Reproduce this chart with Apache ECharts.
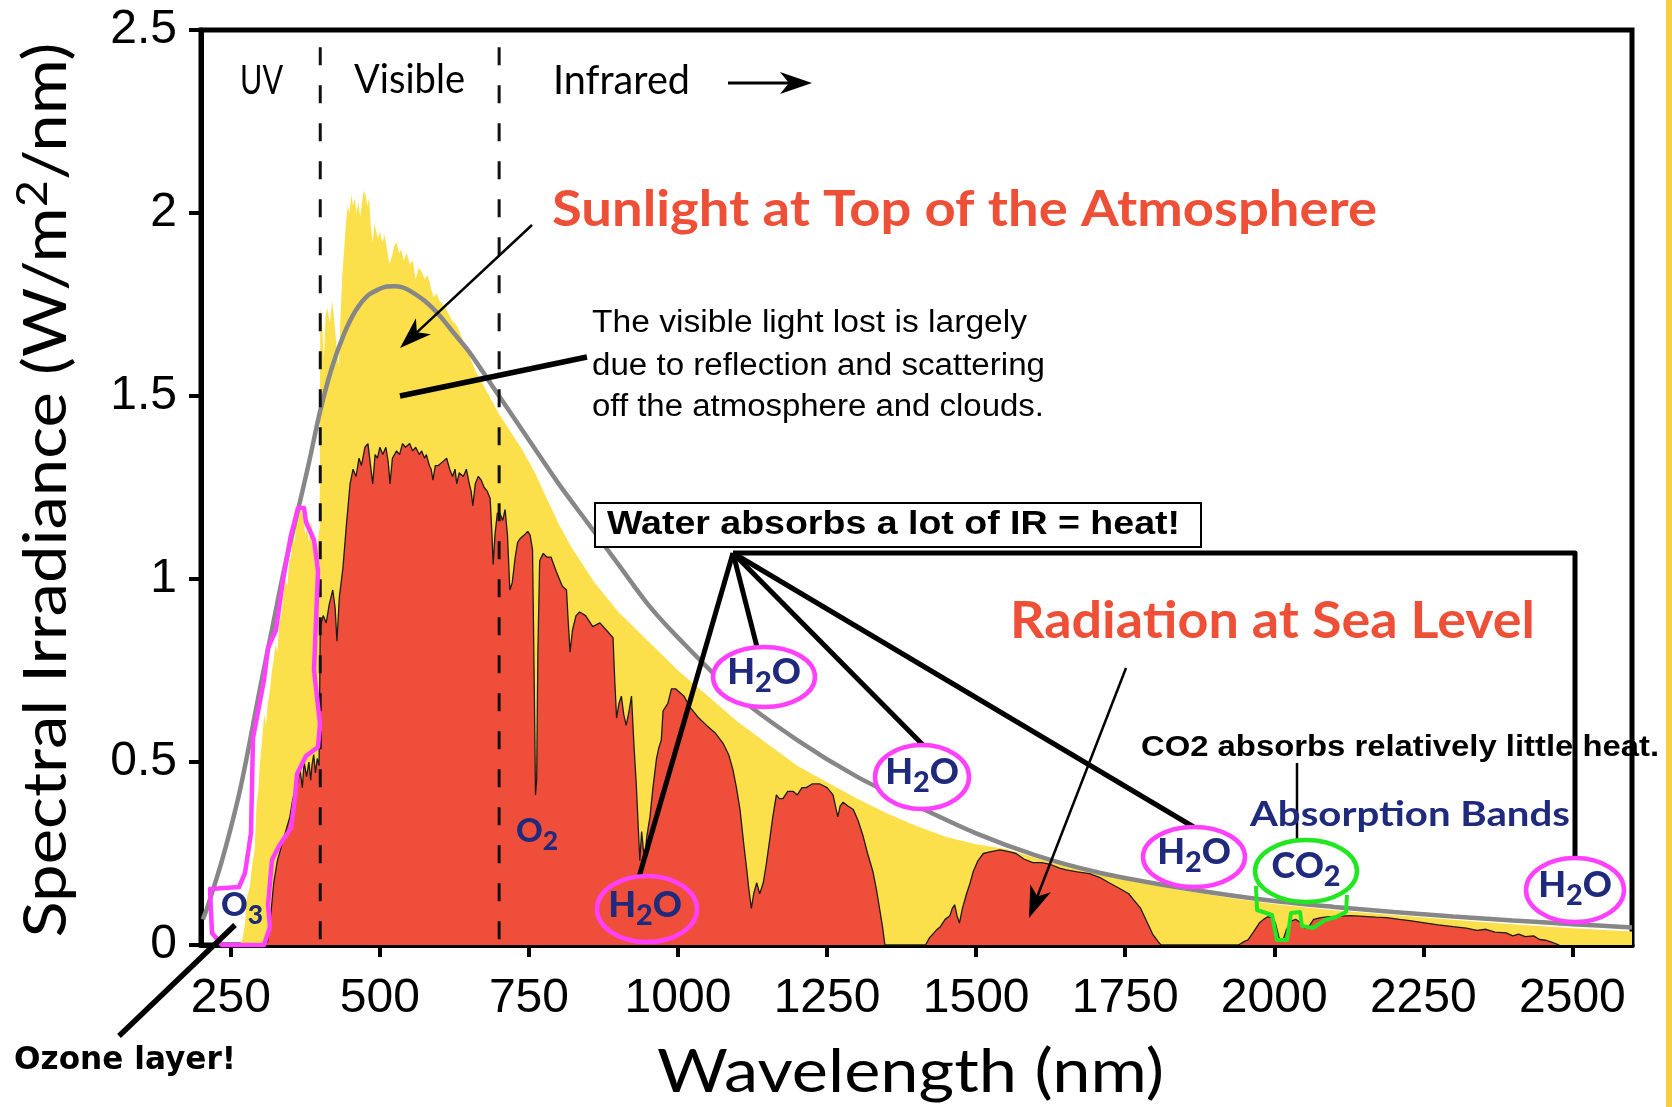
<!DOCTYPE html>
<html><head><meta charset="utf-8">
<script src="https://cdn.jsdelivr.net/npm/echarts@6/dist/echarts.min.js"></script>
<style>html,body{margin:0;padding:0;background:#fff}#c{width:1672px;height:1107px}</style>
</head><body><div id="c"></div>
<script>
// ---------------- data ----------------
const toaWavelength = [265,270,274,277,282,286,290,293,296,299,303,306,309,312,316,319,322,325,328,331,336,341,345,348,351,354,357,360,363,366,369,372,375,378,381,384,387,390,393,396,399,400,403,406,409,412,416,420,424,428,431,434,437,440,443,446,449,452,455,458,461,464,467,470,473,476,479,482,485,488,491,494,497,500,504,508,512,516,520,524,528,532,536,540,545,550,555,560,565,570,575,580,585,590,595,600,610,620,630,640,650,660,670,680,690,700,720,740,760,780,800,820,840,860,880,900,925,950,975,1000,1050,1100,1150,1200,1250,1300,1350,1400,1450,1500,1550,1600,1650,1700,1750,1800,1850,1900,1950,2000,2100,2200,2300,2400,2500,2600];
const toaIrradiance = [0,0.02,0.06,0.13,0.16,0.22,0.26,0.38,0.42,0.50,0.57,0.63,0.60,0.66,0.70,0.75,0.78,0.82,0.80,0.87,0.92,1.00,0.98,1.05,1.06,1.12,1.10,1.16,1.19,1.21,1.18,1.17,1.12,1.14,1.10,1.16,1.13,1.12,1.06,1.10,1.14,1.74,1.70,1.60,1.72,1.74,1.70,1.76,1.70,1.62,1.58,1.72,1.83,1.90,1.97,2.02,2.00,2.05,2.02,2.04,2.00,2.03,1.99,2.03,2.06,2.05,2.02,2.04,1.96,1.92,1.97,1.95,1.93,1.95,1.92,1.94,1.90,1.86,1.88,1.91,1.92,1.89,1.90,1.87,1.89,1.86,1.87,1.82,1.85,1.84,1.82,1.83,1.80,1.77,1.78,1.76,1.74,1.71,1.69,1.65,1.61,1.57,1.54,1.51,1.48,1.45,1.40,1.35,1.29,1.22,1.15,1.09,1.04,0.99,0.95,0.91,0.87,0.83,0.79,0.75,0.68,0.61,0.55,0.49,0.445,0.40,0.36,0.325,0.295,0.275,0.262,0.238,0.215,0.195,0.178,0.162,0.148,0.135,0.123,0.112,0.095,0.082,0.069,0.057,0.046,0.037];

const seaWavelength = [305,312,318,322,328,335,342,349,353,357,362,366,370,373,377,381,384,386,389,392,395,398,400,405,410,415,421,425,428,432,438,444,450,455,460,465,469,475,480,485,488,492,496,500,505,510,514,517,521,528,533,538,543,550,555,560,566,570,575,578,583,586,589,593,598,605,612,617,622,626,629,633,640,645,650,653,656,660,665,670,675,680,685,688,690,693,697,701,706,710,714,718,722,727,731,735,742,748,752,756,759,761,763,765,768,774,780,787,796,806,813,816,819,823,829,835,845,857,869,880,891,894,897,901,905,909,913,918,922,926,930,934,936,939,942,944,948,953,958,964,968,972,975,979,983,989,996,1003,1010,1020,1035,1048,1062,1076,1085,1092,1098,1104,1110,1115,1119,1123,1127,1132,1137,1143,1148,1154,1159,1165,1170,1176,1184,1193,1200,1208,1215,1225,1238,1250,1260,1264,1268,1272,1277,1285,1294,1302,1310,1318,1327,1333,1338,1343,1347,1415,1422,1433,1440,1448,1456,1460,1464,1468,1472,1477,1484,1490,1495,1503,1512,1525,1540,1555,1567,1580,1595,1610,1625,1640,1651,1670,1690,1707,1723,1740,1756,1766,1776,1786,1796,1805,1810,1940,1950,1956,1965,1975,1982,1989,1996,2002,2008,2014,2020,2028,2036,2045,2052,2058,2066,2078,2089,2110,2129,2150,2170,2188,2210,2230,2255,2275,2300,2322,2340,2355,2370,2389,2400,2410,2421,2435,2445,2455,2465,2478];
const seaIrradiance = [0,0.01,0.10,0.17,0.23,0.27,0.31,0.35,0.39,0.42,0.44,0.48,0.43,0.50,0.46,0.50,0.45,0.49,0.52,0.47,0.51,0.49,0.87,0.90,0.88,0.93,0.97,0.92,0.83,0.95,1.03,1.15,1.26,1.30,1.28,1.33,1.31,1.36,1.37,1.30,1.26,1.34,1.33,1.36,1.34,1.36,1.32,1.26,1.33,1.35,1.34,1.37,1.36,1.37,1.35,1.36,1.34,1.35,1.33,1.34,1.31,1.30,1.27,1.31,1.31,1.32,1.33,1.30,1.28,1.30,1.26,1.29,1.28,1.30,1.26,1.24,1.20,1.26,1.28,1.27,1.25,1.24,1.22,1.12,1.04,1.12,1.18,1.18,1.16,1.19,1.12,0.97,0.99,1.06,1.10,1.11,1.12,1.13,1.12,1.08,0.70,0.41,0.45,0.80,1.05,1.07,1.06,1.06,1.02,0.98,0.97,0.88,0.80,0.86,0.90,0.91,0.90,0.87,0.88,0.86,0.84,0.72,0.62,0.66,0.68,0.63,0.60,0.64,0.68,0.55,0.44,0.30,0.23,0.31,0.26,0.24,0.30,0.35,0.43,0.51,0.54,0.56,0.64,0.65,0.66,0.70,0.70,0.69,0.68,0.65,0.62,0.60,0.58,0.55,0.52,0.48,0.43,0.37,0.28,0.21,0.15,0.10,0.14,0.17,0.14,0.17,0.22,0.29,0.35,0.41,0.40,0.40,0.42,0.42,0.41,0.43,0.43,0.44,0.44,0.43,0.41,0.38,0.35,0.38,0.39,0.38,0.37,0.34,0.30,0.25,0.20,0.15,0.10,0.05,0,0,0.02,0.04,0.05,0.07,0.08,0.10,0.11,0.08,0.06,0.10,0.14,0.17,0.20,0.23,0.25,0.255,0.26,0.255,0.25,0.235,0.225,0.225,0.22,0.21,0.205,0.20,0.195,0.185,0.17,0.155,0.14,0.12,0.10,0.065,0.03,0.01,0,0,0.01,0.014,0.035,0.06,0.07,0.077,0.075,0.06,0.02,0.01,0.04,0.065,0.07,0.06,0.045,0.05,0.07,0.075,0.077,0.079,0.08,0.078,0.076,0.075,0.07,0.066,0.06,0.055,0.05,0.046,0.04,0.043,0.035,0.033,0.025,0.03,0.023,0.025,0.015,0.013,0.008,0];

const bbWavelength = [203,210,220,235,250,265,280,300,320,340,360,380,400,420,440,460,480,500,512,525,538,550,575,600,625,650,700,750,800,850,900,950,1000,1100,1200,1300,1400,1500,1600,1700,1800,1900,2000,2100,2200,2300,2400,2500,2600];
const bbIrradiance = [0.07,0.10,0.15,0.23,0.32,0.42,0.54,0.71,0.87,1.03,1.17,1.31,1.46,1.58,1.67,1.735,1.775,1.793,1.799,1.80,1.797,1.788,1.76,1.72,1.67,1.62,1.50,1.38,1.26,1.15,1.04,0.93,0.84,0.68,0.56,0.46,0.38,0.305,0.245,0.20,0.168,0.142,0.12,0.104,0.09,0.078,0.067,0.057,0.048];

const xTickValues = [250,500,750,1000,1250,1500,1750,2000,2250,2500];
const regionBounds = [400, 700];
const regionLineTop = 2.453;

// ---------------- helpers ----------------
const zip = (xs, ys) => xs.map((x, i) => [x, ys[i]]);
const mctx = document.createElement('canvas').getContext('2d');
function measure(text, size, family, weight) {
  mctx.font = (weight || 'normal') + ' ' + size + 'px ' + family;
  return mctx.measureText(text).width;
}
const NAVY = '#1f2a7c', MAG = '#ff40ff', GREEN = '#22e622', RED = '#ee4f37';
const g = [];
function txt(o) {
  const w = measure(o.text, o.size, o.family, o.weight);
  const sx = o.width ? o.width / w : 1;
  g.push({type: 'text', x: o.x, y: o.y, rotation: o.rotation || 0, scaleX: sx, z: 120,
    style: {text: o.text, fontSize: o.size, fontFamily: o.family, fontWeight: o.weight || 'normal',
      fill: o.color || '#000', align: o.align || 'left', verticalAlign: 'middle'}});
}
function poly(pts, w, color, closed, fill) {
  g.push({type: closed ? 'polygon' : 'polyline', shape: {points: pts}, z: 110,
    style: {stroke: color || '#000', lineWidth: w, fill: fill || null, lineJoin: 'round'}});
}
function arrow(x1, y1, x2, y2, w, hl, hw) {
  const a = Math.atan2(y2 - y1, x2 - x1), c = Math.cos(a), s = Math.sin(a);
  const bx = x2 - hl * c, by = y2 - hl * s, nx = x2 - hl * 0.72 * c, ny = y2 - hl * 0.72 * s;
  poly([[x1, y1], [nx, ny]], w);
  g.push({type: 'polygon', z: 111, shape: {points: [[x2, y2], [bx - hw * s, by + hw * c], [nx, ny], [bx + hw * s, by - hw * c]]}, style: {fill: '#000'}});
}
function ellipse(cx, cy, rx, ry, color, fill) {
  g.push({type: 'ellipse', z: 112, shape: {cx, cy, rx, ry}, style: {stroke: color, lineWidth: 4.5, fill: fill || null}});
}
function chem(parts, x, y, size) {
  const text = parts.map(p => '{' + p[1] + '|' + p[0] + '}').join('');
  g.push({type: 'text', x, y, z: 121, style: {text, align: 'center', verticalAlign: 'middle', rich: {
    a: {fontSize: size, fontFamily: 'Lato', fontWeight: 900, fill: NAVY, lineHeight: size * 1.4, verticalAlign: 'middle'},
    s: {fontSize: size * 0.8, fontFamily: 'Lato', fontWeight: 900, fill: NAVY, lineHeight: size * 0.6, verticalAlign: 'bottom'}}}});
}

// ---------------- annotations ----------------
g.push({type: 'rect', z: 1, shape: {x: 1666, y: 0, width: 6, height: 1107}, style: {fill: '#f8cf3c'}});

txt({text: 'Wavelength (nm)', x: 657, y: 1073, size: 60, family: 'Lato', width: 507});
(function () {
  const s1 = 'Spectral Irradiance (W/m', s2 = '2', s3 = '/nm)';
  const W = measure(s1, 60, 'Lato') + measure(s2, 42, 'Lato') + measure(s3, 60, 'Lato');
  g.push({type: 'text', x: 47, y: 490, rotation: Math.PI / 2, scaleX: 895 / W, z: 120,
    style: {text: '{a|' + s1 + '}{s|' + s2 + '}{a|' + s3 + '}', align: 'center', verticalAlign: 'middle', rich: {
      a: {fontSize: 60, fontFamily: 'Lato', fill: '#000', lineHeight: 70, verticalAlign: 'middle'},
      s: {fontSize: 42, fontFamily: 'Lato', fill: '#000', lineHeight: 40, verticalAlign: 'top'}}}});
})();

txt({text: 'UV', x: 240, y: 81, size: 40, family: 'Lato', width: 43});
txt({text: 'Visible', x: 354, y: 80, size: 40, family: 'Lato', width: 111});
txt({text: 'Infrared', x: 553, y: 81, size: 40, family: 'Lato', width: 137});
arrow(728, 83, 812, 83, 3, 32, 11);

txt({text: 'Sunlight at Top of the Atmosphere', x: 552, y: 210, size: 50, family: 'Lato', weight: 'bold', color: RED, width: 825});
arrow(532, 225, 400, 348, 2.5, 32, 11);
txt({text: 'The visible light lost is largely', x: 592, y: 323, size: 31, family: 'Liberation Sans', width: 435});
txt({text: 'due to reflection and scattering', x: 592, y: 366, size: 31, family: 'Liberation Sans', width: 453});
txt({text: 'off the atmosphere and clouds.', x: 592, y: 407, size: 31, family: 'Liberation Sans', width: 452});
poly([[400, 396], [587, 357]], 5.5);

poly([[733, 553], [639, 877]], 5);
poly([[733, 553], [757, 647]], 5);
poly([[733, 553], [925, 747]], 5);
poly([[733, 553], [1197, 829]], 5);
poly([[733, 553], [1575, 553], [1575, 858]], 5);
g.push({type: 'rect', z: 113, shape: {x: 595, y: 503, width: 606, height: 44}, style: {fill: '#fff', stroke: '#000', lineWidth: 2}});
txt({text: 'Water absorbs a lot of IR = heat!', x: 607, y: 525, size: 33, family: 'Liberation Sans', weight: 'bold', width: 573});

ellipse(647, 909, 50, 33, MAG, null);
ellipse(764, 677, 51, 30, MAG, '#fff');
ellipse(922, 777, 47, 32, MAG, '#fff');
ellipse(1194, 857, 51, 30, MAG, '#fff');
ellipse(1575, 890, 49, 32, MAG, '#fff');
const H2O = [['H', 'a'], ['2', 's'], ['O', 'a']];
chem(H2O, 645, 905, 36);
chem(H2O, 764, 672, 36);
chem(H2O, 922, 772, 36);
chem(H2O, 1194, 852, 36);
chem(H2O, 1575, 885, 36);

poly([[1256, 886], [1257, 910], [1272, 915], [1277, 940], [1287, 940], [1291, 913], [1300, 912], [1302, 926], [1313, 928], [1325, 920], [1336, 917], [1346, 912], [1347, 895]], 4, GREEN);
ellipse(1306, 871, 51, 31, GREEN, '#fff');
chem([['CO', 'a'], ['2', 's']], 1306, 866, 36);
txt({text: 'CO2 absorbs relatively little heat.', x: 1141, y: 748, size: 29, family: 'Liberation Sans', weight: 'bold', width: 518});
poly([[1297, 763], [1297, 842]], 2.5);
txt({text: 'Absorption Bands', x: 1250, y: 815, size: 34, family: 'Lato', weight: 'bold', color: NAVY, width: 320});

txt({text: 'Radiation at Sea Level', x: 1010, y: 622, size: 51, family: 'Lato', weight: 'bold', color: RED, width: 525});
arrow(1126, 668, 1029, 918, 2.5, 32, 11);

chem([['O', 'a'], ['2', 's']], 537, 831, 33);

poly([[222, 945], [212, 933], [210, 889], [239, 887], [245, 873], [251, 833], [253, 738], [264, 680], [268, 648], [276, 630], [283, 580], [291, 535], [298, 508], [304, 508], [306, 522], [314, 540], [318, 571], [314, 670], [320, 724], [318, 747], [306, 756], [297, 774], [295, 797], [291, 828], [279, 846], [272, 860], [268, 905], [270, 927], [264, 945]], 4.5, MAG, true);
chem([['O', 'a'], ['3', 's']], 242, 905, 33);
poly([[119, 1036], [235, 925]], 5.5);
txt({text: 'Ozone layer!', x: 14, y: 1061, size: 32, family: 'DejaVu Sans', weight: 'bold', width: 222});

// ---------------- chart ----------------
const chart = echarts.init(document.getElementById('c'), null, {renderer: 'canvas'});
const regionSeries = regionBounds.map(b => ({
  type: 'line', data: [[b, regionLineTop], [b, 0]], showSymbol: false, silent: true, z: 5,
  lineStyle: {color: '#111', width: 3, type: [18, 20]}
}));
chart.setOption({
  animation: false,
  backgroundColor: '#fff',
  grid: {left: 201, top: 30, width: 1431, height: 915, show: true, borderColor: '#000', borderWidth: 5},
  xAxis: {
    type: 'value', min: 200, max: 2600,
    axisLine: {lineStyle: {color: '#000', width: 5}},
    axisTick: {customValues: xTickValues, length: 12, lineStyle: {color: '#000', width: 4}},
    axisLabel: {customValues: xTickValues, formatter: v => String(v), fontSize: 48, fontFamily: 'Liberation Sans', color: '#000', margin: 30},
    splitLine: {show: false}
  },
  yAxis: {
    type: 'value', min: 0, max: 2.5, interval: 0.5,
    axisLine: {show: true, lineStyle: {color: '#000', width: 5}},
    axisTick: {show: true, length: 12, lineStyle: {color: '#000', width: 4}},
    axisLabel: {fontSize: 48, fontFamily: 'Liberation Sans', color: '#000', margin: 24},
    splitLine: {show: false}
  },
  series: [
    {name: 'Sunlight at Top of the Atmosphere', type: 'line', data: zip(toaWavelength, toaIrradiance), showSymbol: false, z: 2,
      lineStyle: {width: 0}, areaStyle: {color: '#fce04b', opacity: 1}},
    {name: 'Radiation at Sea Level', type: 'line', data: zip(seaWavelength, seaIrradiance), showSymbol: false, z: 3,
      lineStyle: {width: 1.3, color: '#1c1c1c'}, areaStyle: {color: '#ef4f3a', opacity: 1}},
    {name: '5250°C Blackbody Spectrum', type: 'line', data: zip(bbWavelength, bbIrradiance), showSymbol: false, smooth: 0.3, z: 4,
      lineStyle: {width: 4.5, color: '#878787'}},
    ...regionSeries
  ],
  graphic: {elements: g}
});
</script>
</body></html>
